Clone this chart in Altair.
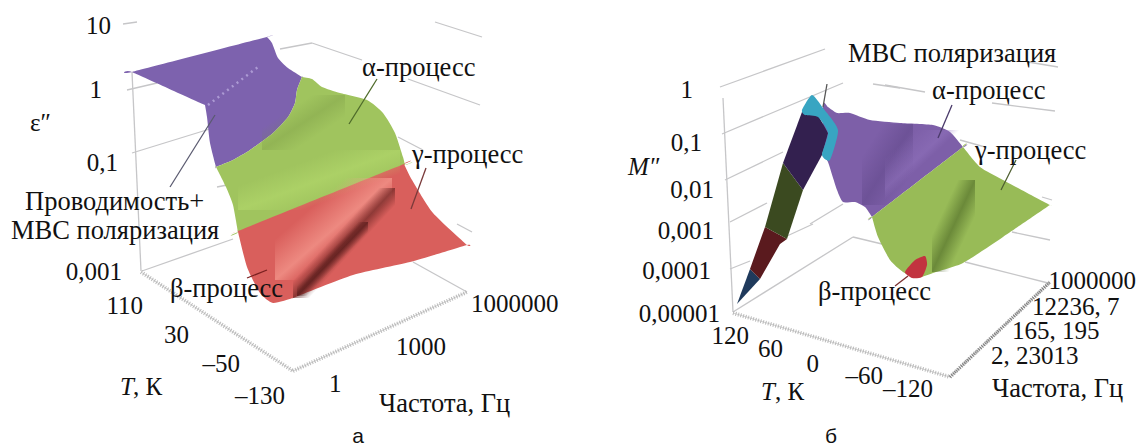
import altair as alt
import pandas as pd

W, H = 1129, 440
SX = alt.Scale(domain=[8, 8 + W], nice=False, zero=False)
SY = alt.Scale(domain=[8 + H, 8], nice=False, zero=False)


def soft(rgb, peak, lo, mid, hi):
    """Band along the box's rising diagonal that fades out on both sides."""
    return alt.LinearGradient(
        gradient="linear", x1=0, y1=0, x2=1, y2=1,
        stops=[
            alt.GradientStop(color=f"rgba({rgb},0)", offset=lo),
            alt.GradientStop(color=f"rgba({rgb},{peak})", offset=mid),
            alt.GradientStop(color=f"rgba({rgb},0)", offset=hi),
        ],
    )


# ---------- surfaces, painted in this order ----------
# a repeated vertex keeps a sharp corner under the smooth interpolation
L_PURPLE = [(132,72),(132,72),(267,37),(267,37),(272,43),(278,58),(288,68),(302,77),(302,77),(297,90),(295,103),(288,117),(273,133),(250,150),(233,160),(216,167),(216,167),(210,143),(207,117),(205,105),(205,105)]
L_GREEN = [(216,167),(216,167),(233,160),(250,150),(273,133),(288,117),(295,103),(297,90),(302,77),(302,77),(312,79),(322,87),(340,93),(367,100),(383,113),(395,133),(403,157),(405,165),(405,165),(238,232),(238,232),(233,205),(226,187)]
L_RED = [(404,164),(404,164),(412,180),(433,213),(467,245),(467,245),(410,262),(353,275),(293,298),(293,298),(273,303),(260,293),(247,267),(238,232),(238,231),(238,231)]
# shading bands: boxes whose rising diagonal follows the fold in the surface
L_G_LIGHT = [(238,150),(400,150),(400,210),(238,210)]
L_G_DARK = [(262,95),(345,95),(345,150),(262,150)]
L_R_BRIGHT = [(275,178),(392,178),(392,280),(275,280)]
L_R_SHADE = [(293,188),(395,188),(395,298),(293,298)]
L_R_CORE = [(297,222),(368,222),(368,296),(297,296)]

R_PURPLE = [(823,104),(828,107),(837,113),(850,113),(870,120),(900,123),(933,125),(950,132),(963,147),(963,147),(872,217),(872,217),(865,207),(855,202),(843,202),(837,190),(828,162),(823,153)]
R_P_DARK = [(862,124),(913,124),(913,205),(862,205)]
R_P_LIGHT = [(885,130),(960,130),(960,200),(885,200)]
R_GREEN = [(963,147),(963,147),(980,167),(1003,180),(1050,205),(1050,205),(1047,207),(1003,237),(963,263),(933,273),(917,278),(903,272),(890,260),(878,237),(872,217),(872,217)]
R_G_DARK = [(932,180),(975,180),(975,272),(932,272)]
R_RED = [(905,272),(915,260),(925,256),(927,265),(922,277),(912,278)]
R_NAVY = [(737,304),(750,269),(760,279)]
R_MAROON = [(750,269),(765,227),(787,239),(780,244),(760,279)]
R_OLIVE = [(765,227),(783,163),(803,190),(787,239)]
R_VIOLET = [(783,163),(802,112),(818,115),(828,133),(822,155),(803,190)]
R_TEAL = [(802,110),(812,95),(823,108),(838,130),(830,160),(822,155),(828,133),(818,117),(805,115)]

POLYGONS = [
    (L_PURPLE, "#7d62ae", "cardinal-closed"), (L_GREEN, "#a0c45e", "cardinal-closed"),
    (L_RED, "#d95f5c", "cardinal-closed"),
    (L_G_LIGHT, soft("186,224,112", .45, .3, .5, .7), "linear-closed"),
    (L_G_DARK, soft("110,140,60", .28, .3, .5, .7), "linear-closed"),
    (L_R_BRIGHT, soft("248,160,148", .65, .3, .5, .6), "linear-closed"),
    (L_R_SHADE, soft("90,28,26", .6, .42, .5, .58), "linear-closed"),
    (L_R_CORE, soft("60,14,14", .55, .43, .5, .57), "linear-closed"),
    (R_PURPLE, "#7d5fa8", "cardinal-closed"),
    (R_P_DARK, soft("80,58,120", .35, .2, .5, .8), "linear-closed"),
    (R_P_LIGHT, soft("150,120,195", .4, .2, .42, .5), "linear-closed"),
    (R_GREEN, "#98bb57", "cardinal-closed"),
    (R_G_DARK, soft("62,88,28", .5, .3, .5, .7), "linear-closed"),
    (R_RED, "#c2333f", "cardinal-closed"),
    (R_NAVY, "#1f3a5c", "linear-closed"), (R_MAROON, "#5a1a1e", "linear-closed"),
    (R_OLIVE, "#3b4a20", "linear-closed"), (R_VIOLET, "#33204f", "linear-closed"),
    (R_TEAL, "#38a5c2", "cardinal-closed"),
]

# ---------- grid / floor lines: (x1, y1, x2, y2) ----------
GRID = [
    (132,72,141,271),(132,153,213,128),(127,90,157,83),(123,24,137,22),(217,187,227,185),
    (280,49,312,43),(312,43,362,60),(408,79,480,105),(435,22,482,37),(398,137,423,150),(457,224,472,232),
    (142,271,233,239),(413,262,467,292),
    (723,98,733,312),(720,87,825,49),(722,134,843,83),(725,180,783,152),(730,222,767,203),(810,224,843,204),
    (730,269,750,261),(787,236,813,224),(733,312,853,237),(853,237,882,244),(965,262,1048,283),
    (885,85,925,92),(992,103,1055,111),(1028,62,1058,67),(873,84,900,88),(960,140,985,147),(1042,197,1052,200),(1012,232,1050,240),
]
HATCH = [(141,272,293,371),(293,371,467,292),(733,313,950,377),(950,377,1050,282)]
HATCH_DARK = [(950,377,1050,282)]

# ---------- leader lines: (x1, y1, x2, y2, colour) ----------
LEADERS = [
    (215,115,170,187,"#5a5a70"),(377,79,349,124,"#4e6b2a"),(426,168,411,209,"#7a3a3a"),(267,270,247,278,"#7a2020"),
    (827,84,823,107,"#555555"),(952,105,938,138,"#4a3a6a"),(1016,160,1001,190,"#4e5e30"),(908,276,895,286,"#7a3030"),
]

# ---------- labels ----------
LABELS_RIGHT = [
    (111,26,"10"),(102,90,"1"),(118,163,"0,1"),(122,272,"0,001"),
    (143,306,"110"),(189,335,"30"),(240,364,"–50"),(285,396,"–130"),
    (693,90,"1"),(702,143,"0,1"),(714,190,"0,01"),(714,231,"0,001"),(711,271,"0,0001"),(720,314,"0,00001"),
    (749,336,"120"),(783,349,"60"),(819,364,"0"),(883,376,"–60"),(933,389,"–120"),
    (1136,281,"1000000"),
]
LABELS_NUM = [
    (30,123,"ε″"),(471,304,"1000000"),(396,347,"1000"),(329,384,"1"),(133,387,", К"),
    (1032,307,"12236, 7"),(1012,331,"165, 195"),(991,356,"2, 23013"),(775,392,", К"),
]
LABELS_WORDS = [
    (25,202,"Проводимость+"),(11,231,"МВС поляризация"),(170,289,"β-процесс"),
    (362,68,"α-процесс"),(412,155,"γ-процесс"),(379,404,"Частота, Гц"),
    (818,292,"β-процесс"),(848,54,"МВС поляризация"),(932,91,"α-процесс"),(975,151,"γ-процесс"),
    (992,389,"Частота, Гц"),
]
LABELS_ITALIC = [(120,387,"T"),(761,392,"T"),(628,167,"M″")]
LABELS_PANEL = [(358,437,"а"),(831,437,"б")]


def segs(rows):
    return pd.DataFrame(rows, columns=["x", "y", "x2", "y2"])


layers = []
for pts, fill, interp in POLYGONS:
    d = pd.DataFrame(pts, columns=["x", "y"]).reset_index()
    layers.append(
        alt.Chart(d).mark_line(interpolate=interp, tension=0.4, fill=fill, strokeWidth=0)
        .encode(x=alt.X("x:Q", scale=SX, axis=None), y=alt.Y("y:Q", scale=SY, axis=None), order="index:Q")
    )


def rules(rows, **kw):
    return alt.Chart(segs(rows)).mark_rule(**kw).encode(
        x=alt.X("x:Q", scale=SX, axis=None), y=alt.Y("y:Q", scale=SY, axis=None), x2="x2:Q", y2="y2:Q")


grid = rules(GRID, color="#c6c6c8", strokeWidth=1.3)
hatch = rules(HATCH, color="#b4b4b4", strokeWidth=4, strokeDash=[1, 1.6], opacity=.9)
hatch2 = rules(HATCH_DARK, color="#7a7a7a", strokeWidth=3, strokeDash=[1, 1.2])
base = rules(HATCH, color="#d2d2d2", strokeWidth=1)
dots = rules([(208,105,258,67)], color="#bcaee0", strokeWidth=2.5, strokeDash=[2, 4], opacity=.75)
leaders = alt.Chart(pd.DataFrame(LEADERS, columns=["x", "y", "x2", "y2", "c"])).mark_rule(strokeWidth=1.3).encode(
    x=alt.X("x:Q", scale=SX, axis=None), y=alt.Y("y:Q", scale=SY, axis=None), x2="x2:Q", y2="y2:Q",
    color=alt.Color("c:N", scale=None))


def text(rows, **kw):
    d = pd.DataFrame(rows, columns=["x", "y", "t"])
    return alt.Chart(d).mark_text(baseline="middle", color="#111111", **kw).encode(
        x=alt.X("x:Q", scale=SX, axis=None), y=alt.Y("y:Q", scale=SY, axis=None), text="t:N")


SERIF = "Liberation Serif"
texts = [
    text(LABELS_RIGHT, align="right", font=SERIF, fontSize=25),
    text(LABELS_NUM, align="left", font=SERIF, fontSize=25),
    text(LABELS_WORDS, align="left", font=SERIF, fontSize=26.5),
    text(LABELS_ITALIC, align="left", font=SERIF, fontSize=25, fontStyle="italic"),
    text(LABELS_PANEL, align="center", font="Liberation Sans", fontSize=21),
]

chart = alt.layer(grid, base, hatch, hatch2, *layers, dots, leaders, *texts).properties(
    width=W, height=H, padding=0, autosize=alt.AutoSizeParams(type="none"),
).configure_view(stroke=None)

chart.save("out.html", embed_options={"renderer": "svg", "actions": False})
